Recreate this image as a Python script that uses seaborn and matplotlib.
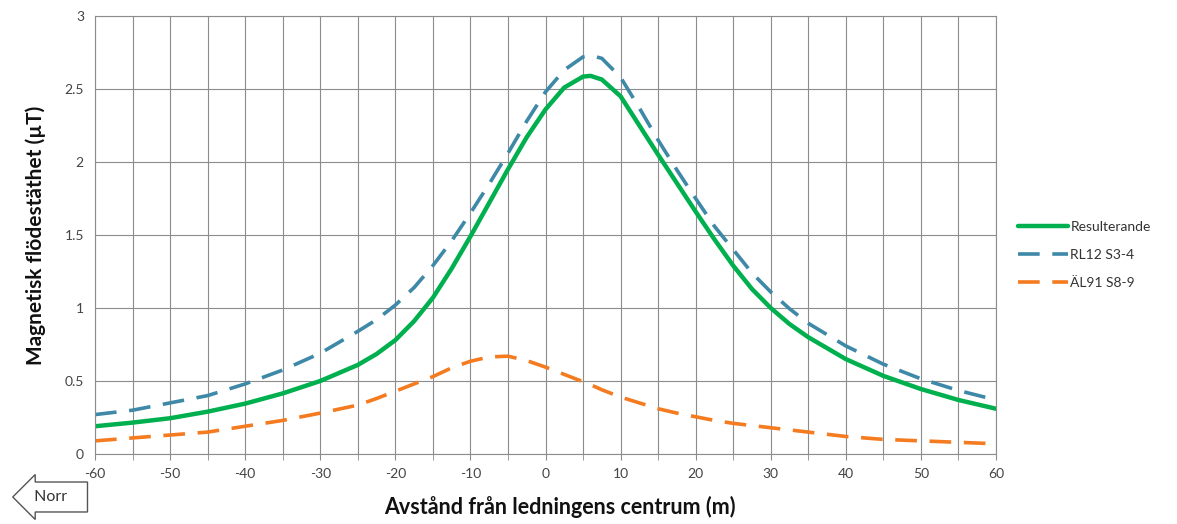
import matplotlib
matplotlib.use("Agg")
import matplotlib.pyplot as plt
import seaborn as sns
import pandas as pd
import numpy as np

# ---- data ----
distance = [-60, -55, -50, -45, -40, -35, -30, -25, -22.5, -20, -17.5, -15, -12.5, -10,
            -7.5, -5, -2.5, 0, 2.5, 5, 6, 7.5, 10, 12.5, 15, 17.5, 20, 22.5, 25, 27.5, 30,
            32.5, 35, 40, 45, 50, 55, 60]
resulterande = [0.19, 0.215, 0.245, 0.29, 0.345, 0.415, 0.50, 0.61, 0.685, 0.78, 0.91, 1.07, 1.27, 1.49,
                1.72, 1.95, 2.17, 2.36, 2.51, 2.585, 2.59, 2.565, 2.45, 2.25, 2.05, 1.855, 1.66, 1.47, 1.29, 1.13, 1.00,
                0.89, 0.80, 0.65, 0.535, 0.445, 0.37, 0.31]
rl12 = [0.27, 0.30, 0.35, 0.40, 0.48, 0.575, 0.69, 0.84, 0.92, 1.02, 1.14, 1.29, 1.46, 1.65,
        1.85, 2.06, 2.28, 2.48, 2.63, 2.72, 2.73, 2.71, 2.58, 2.37, 2.15, 1.945, 1.75, 1.56, 1.40, 1.24, 1.11,
        0.995, 0.895, 0.74, 0.615, 0.515, 0.435, 0.37]
al91 = [0.09, 0.11, 0.13, 0.15, 0.19, 0.23, 0.28, 0.335, 0.38, 0.43, 0.48, 0.53, 0.59, 0.635,
        0.665, 0.67, 0.64, 0.595, 0.545, 0.495, 0.475, 0.44, 0.39, 0.35, 0.31, 0.28, 0.255, 0.23, 0.21, 0.195, 0.18,
        0.165, 0.15, 0.12, 0.10, 0.09, 0.08, 0.07]
series_names = ["Resulterande", "RL12 S3-4", "ÄL91 S8-9"]
x_ticks = [-60, -50, -40, -30, -20, -10, 0, 10, 20, 30, 40, 50, 60]
x_tick_labels = ["-60", "-50", "-40", "-30", "-20", "-10", "0", "10", "20", "30", "40", "50", "60"]
y_ticks = [0, 0.5, 1, 1.5, 2, 2.5, 3]
y_tick_labels = ["0", "0.5", "1", "1.5", "2", "2.5", "3"]

n = len(distance)
df = pd.DataFrame({
    "x": distance * 3,
    "y": resulterande + rl12 + al91,
    "serie": [series_names[0]] * n + [series_names[1]] * n + [series_names[2]] * n,
})

sns.set_style("white")
plt.rcParams["font.family"] = ["Lato", "DejaVu Sans"]

fig = plt.figure(figsize=(11.77, 5.24), dpi=100)
ax = fig.add_axes([95 / 1177, 1 - 454 / 524, (996 - 95) / 1177, (454 - 16) / 524])

colors = {"Resulterande": "#00B04F", "RL12 S3-4": "#3E88A8", "ÄL91 S8-9": "#F47B20"}
styles = {"Resulterande": (None, 3.2), "RL12 S3-4": ((6, 3.5), 2.6), "ÄL91 S8-9": ((6, 3.5), 2.6)}

for name in series_names:
    sub = df[df["serie"] == name]
    dash, lw = styles[name]
    sns.lineplot(data=sub, x="x", y="y", ax=ax, color=colors[name], lw=lw,
                 label=name, sort=True)
    l = ax.get_lines()[-1]
    l.set_solid_capstyle("round")
    l.set_solid_joinstyle("round")
    if dash is not None:
        l.set_dashes(dash)

ax.set_xlim(-60, 60)
ax.set_ylim(0, 3)
ax.set_xticks(x_ticks)
ax.set_xticklabels(x_tick_labels)
ax.set_xticks(np.arange(-55, 60, 10), minor=True)
ax.set_yticks(y_ticks)
ax.set_yticklabels(y_tick_labels)
ax.grid(True, which="both", color="#8c8c8c", lw=0.8)
ax.set_axisbelow(True)
for s in ax.spines.values():
    s.set_color("#8c8c8c")
    s.set_linewidth(0.8)
ax.tick_params(axis="both", which="both", colors="#8c8c8c", labelcolor="#444444",
               labelsize=10, length=4, direction="out", bottom=True)
ax.tick_params(axis="y", length=0, pad=8)
ax.tick_params(axis="x", pad=6)

ax.set_xlabel("Avstånd från ledningens centrum (m)", fontsize=15.5, fontweight="bold",
              color="#111111", labelpad=9)
ax.xaxis.set_label_coords(0.516, -0.095)
ax.set_ylabel("Magnetisk flödestäthet (µT)", fontsize=15, fontweight="bold",
              color="#111111", labelpad=13)

leg = ax.legend(loc="center left", bbox_to_anchor=(1.01, 0.455), frameon=False,
                fontsize=10, handlelength=3.6, handletextpad=0.2, labelspacing=1.15)
for t in leg.get_texts():
    t.set_color("#333333")

fig.text(30 / 1177, 1 - 497 / 524, " Norr   ", fontsize=11.5, color="#333333", va="center", ha="left",
         bbox=dict(boxstyle="larrow,pad=0.5", fc="white", ec="#555555", lw=1))

fig.savefig("out.png", dpi=100)
